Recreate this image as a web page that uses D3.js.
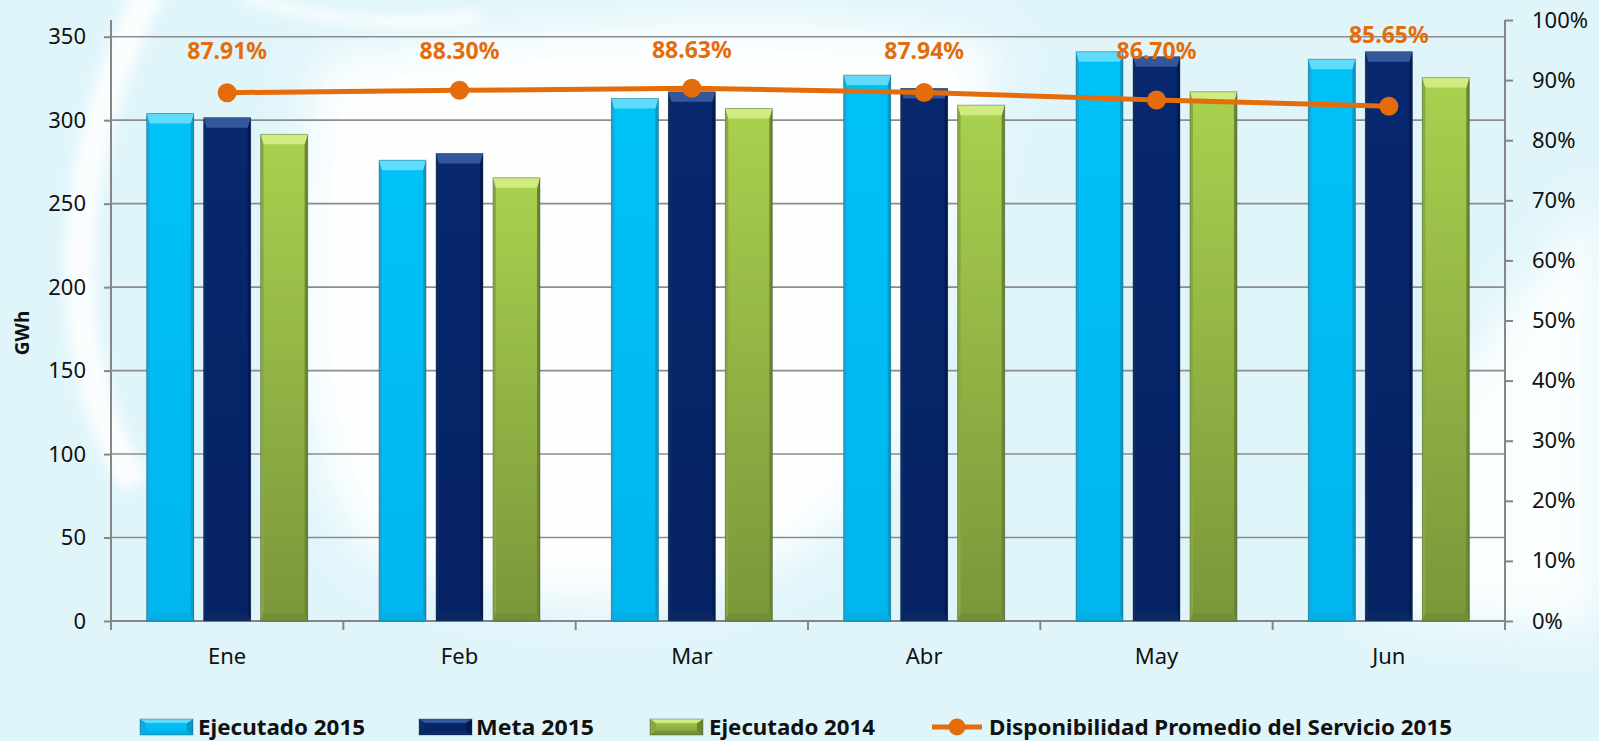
<!DOCTYPE html>
<html>
<head>
<meta charset="utf-8">
<script src="https://cdn.jsdelivr.net/npm/d3@7"></script>
<style>
  body { margin: 0; background: #ffffff; }
  svg { display: block; font-family: "Noto Sans", "Open Sans", sans-serif; }
</style>
</head>
<body>
<div id="chart"></div>
<script>
// Chart data
const months = ["Ene", "Feb", "Mar", "Abr", "May", "Jun"];
const ejecutado2015 = [304, 276, 313, 327, 341, 336.5];
const meta2015 = [301.5, 280, 317, 319, 338, 341];
const ejecutado2014 = [291.5, 265.5, 307, 309, 317, 325.5];
const disponibilidad = [0.8791, 0.8830, 0.8863, 0.8794, 0.8670, 0.8565];
const gwhTicks = [0, 50, 100, 150, 200, 250, 300, 350];
const pctTicks = [0, 0.1, 0.2, 0.3, 0.4, 0.5, 0.6, 0.7, 0.8, 0.9, 1];
const seriesNames = ["Ejecutado 2015", "Meta 2015", "Ejecutado 2014"];
const lineName = "Disponibilidad Promedio del Servicio 2015";

const width = 1599, height = 741;
const plot = { left: 111, right: 1505, top: 20, bottom: 621 };
const orange = "#e46c0a";

// bar looks (3D bevel like the office chart)
const looks = [
  { id: "e15", top: "#00c2f7", bottom: "#00b6ee", bevelTop: "#5fdcfb", edgeL: "#14a9db", edgeR: "#0b98c8", bevelBottom: "#0aa6da" },
  { id: "m15", top: "#07286f", bottom: "#052263", bevelTop: "#34579c", edgeL: "#0b2a66", edgeR: "#031a4e", bevelBottom: "#102d66" },
  { id: "e14", top: "#a9d14f", bottom: "#7a963a", bevelTop: "#d0ec80", edgeL: "#8aa83f", edgeR: "#6b8530", bevelBottom: "#6f8a33" }
];

const svg = d3.select("#chart").append("svg")
  .attr("width", width)
  .attr("height", height);

const defs = svg.append("defs");
defs.append("filter").attr("id", "soft")
  .attr("x", "-30%").attr("y", "-30%").attr("width", "160%").attr("height", "160%")
  .append("feGaussianBlur").attr("stdDeviation", 22);
defs.append("filter").attr("id", "soft2")
  .attr("x", "-30%").attr("y", "-30%").attr("width", "160%").attr("height", "160%")
  .append("feGaussianBlur").attr("stdDeviation", 6);

looks.forEach(l => {
  const gr = defs.append("linearGradient").attr("id", "grad-" + l.id)
    .attr("x1", 0).attr("y1", 0).attr("x2", 0).attr("y2", 1);
  gr.append("stop").attr("offset", "0%").attr("stop-color", l.top);
  gr.append("stop").attr("offset", "100%").attr("stop-color", l.bottom);
});

// Background: light cyan with white swooshes
svg.append("rect").attr("width", width).attr("height", height).attr("fill", "#e0f5fa");
const bg = svg.append("g");
bg.append("path")
  .attr("d", "M 320 60 C 600 10, 880 10, 1000 50 L 900 440 C 820 600, 620 640, 380 560 C 290 500, 280 250, 320 60 Z")
  .attr("fill", "#ffffff").attr("opacity", 0.95).attr("filter", "url(#soft)");
bg.append("path")
  .attr("d", "M 1599 190 L 1440 400 L 1370 610 L 1599 630 Z")
  .attr("fill", "#ffffff").attr("opacity", 0.9).attr("filter", "url(#soft)");
bg.append("path")
  .attr("d", "M 150 -10 C 75 140, 45 330, 135 485")
  .attr("fill", "none").attr("stroke", "#ffffff").attr("stroke-width", 30)
  .attr("opacity", 0.85).attr("filter", "url(#soft2)");
bg.append("path")
  .attr("d", "M 245 -5 Q 350 35 480 15")
  .attr("fill", "none").attr("stroke", "#ffffff").attr("stroke-width", 12)
  .attr("opacity", 0.8).attr("filter", "url(#soft2)");

// Scales
const x0 = d3.scaleBand().domain(months).range([plot.left, plot.right]).padding(0);
const x1 = d3.scaleBand().domain(d3.range(3)).range([0, x0.bandwidth()])
  .paddingInner(0.175).paddingOuter(0.626);
const yLeft = d3.scaleLinear().domain([0, 360]).range([plot.bottom, plot.top]);
const yRight = d3.scaleLinear().domain([0, 1]).range([plot.bottom, plot.top]);
const cx = i => x0(months[i]) + x0.bandwidth() / 2;

// Gridlines
svg.append("g")
  .selectAll("line")
  .data(gwhTicks.filter(d => d > 0))
  .enter().append("line")
  .attr("x1", plot.left).attr("x2", plot.right)
  .attr("y1", d => yLeft(d)).attr("y2", d => yLeft(d))
  .attr("stroke", "#8c8c8c").attr("stroke-width", 1.6);

// Left axis
const leftAxis = svg.append("g")
  .attr("transform", `translate(${plot.left},0)`)
  .call(d3.axisLeft(yLeft).tickValues(gwhTicks).tickSize(7).tickPadding(18));
leftAxis.select(".domain").remove();
leftAxis.append("line").attr("x1", 0).attr("x2", 0)
  .attr("y1", plot.top).attr("y2", plot.bottom);

// Right axis
const rightAxis = svg.append("g")
  .attr("transform", `translate(${plot.right},0)`)
  .call(d3.axisRight(yRight).tickValues(pctTicks).tickFormat(d3.format(".0%")).tickSize(8).tickPadding(19));
rightAxis.select(".domain").remove();
rightAxis.append("line").attr("x1", 0).attr("x2", 0)
  .attr("y1", plot.top).attr("y2", plot.bottom);

// Bottom axis (ticks between categories)
const bottomAxis = svg.append("g").attr("transform", `translate(0,${plot.bottom})`);
bottomAxis.append("line").attr("x1", plot.left).attr("x2", plot.right).attr("y1", 0).attr("y2", 0);
bottomAxis.selectAll("line.tick")
  .data(d3.range(months.length + 1))
  .enter().append("line").attr("class", "tick")
  .attr("x1", i => plot.left + i * x0.step()).attr("x2", i => plot.left + i * x0.step())
  .attr("y1", 0).attr("y2", 9);
bottomAxis.selectAll("text")
  .data(months)
  .enter().append("text")
  .attr("x", d => x0(d) + x0.bandwidth() / 2)
  .attr("y", 35)
  .attr("dy", "0.35em")
  .attr("text-anchor", "middle")
  .text(d => d);

[leftAxis, rightAxis, bottomAxis].forEach(a => {
  a.selectAll("line").attr("stroke", "#868686").attr("stroke-width", 2);
  a.selectAll("text").attr("fill", "#111").style("font-size", "22px").style("font-family", "'Noto Sans', sans-serif");
});

// Y axis title
svg.append("text")
  .attr("transform", "translate(22,333) rotate(-90)")
  .attr("text-anchor", "middle")
  .attr("dy", "0.35em")
  .style("font-size", "19px")
  .style("font-weight", "bold")
  .attr("fill", "#111")
  .text("GWh");

// Bevelled bar
function bevelBar(g, x, y, w, h, look, bt, bs, bb) {
  const b = g.append("g");
  b.append("rect").attr("x", x).attr("y", y).attr("width", w).attr("height", h)
    .attr("fill", "url(#grad-" + look.id + ")");
  b.append("polygon")
    .attr("points", [[x, y], [x + bs, y + bt], [x + bs, y + h - bb], [x, y + h]].join(" "))
    .attr("fill", look.edgeL);
  b.append("polygon")
    .attr("points", [[x + w, y], [x + w - bs, y + bt], [x + w - bs, y + h - bb], [x + w, y + h]].join(" "))
    .attr("fill", look.edgeR);
  b.append("polygon")
    .attr("points", [[x, y + h], [x + bs, y + h - bb], [x + w - bs, y + h - bb], [x + w, y + h]].join(" "))
    .attr("fill", look.bevelBottom).attr("opacity", 0.6);
  b.append("polygon")
    .attr("points", [[x, y], [x + w, y], [x + w - bs, y + bt], [x + bs, y + bt]].join(" "))
    .attr("fill", look.bevelTop);
  b.append("rect").attr("x", x).attr("y", y).attr("width", w).attr("height", h)
    .attr("fill", "none").attr("stroke", "rgba(40,60,70,0.35)").attr("stroke-width", 1);
  return b;
}

// Bars
const seriesValues = [ejecutado2015, meta2015, ejecutado2014];
const barsG = svg.append("g");
months.forEach((m, i) => {
  seriesValues.forEach((vals, s) => {
    const x = x0(m) + x1(s);
    const y = yLeft(vals[i]);
    bevelBar(barsG, x, y, x1.bandwidth(), yLeft(0) - y, looks[s], 10, 3, 8);
  });
});

// Line series
const lineGen = d3.line()
  .x((d, i) => cx(i))
  .y(d => yRight(d));
svg.append("path")
  .datum(disponibilidad)
  .attr("d", lineGen)
  .attr("fill", "none")
  .attr("stroke", orange)
  .attr("stroke-width", 5);
svg.append("g").selectAll("circle")
  .data(disponibilidad)
  .enter().append("circle")
  .attr("cx", (d, i) => cx(i))
  .attr("cy", d => yRight(d))
  .attr("r", 9.5)
  .attr("fill", orange);

// Data labels: above the point, lifted over the Meta bar when they would touch it
function labelY(d, i) {
  let y = Math.min(yRight(d) - 38, 51);
  const barTop = yLeft(meta2015[i]);
  if (barTop < y + 3) y = barTop - 17;
  return y;
}
svg.append("g").selectAll("text")
  .data(disponibilidad)
  .enter().append("text")
  .attr("x", (d, i) => cx(i))
  .attr("y", labelY)
  .attr("dy", "0.35em")
  .attr("text-anchor", "middle")
  .style("font-size", "23px")
  .style("font-weight", "bold")
  .attr("fill", orange)
  .text(d => d3.format(".2%")(d));

// Legend
const legend = svg.append("g").attr("transform", "translate(0,727)");
const legendItems = [
  { x: 140, text: seriesNames[0], tx: 198, tw: 167 },
  { x: 419, text: seriesNames[1], tx: 476, tw: 118 },
  { x: 650, text: seriesNames[2], tx: 709, tw: 166 }
];
legendItems.forEach((it, s) => {
  const g = legend.append("g");
  bevelBar(g, it.x, -8, 53, 16, looks[s], 4, 6, 4);
  g.append("text").attr("x", it.tx).attr("y", 0).attr("dy", "0.35em")
    .style("font-size", "22px").style("font-weight", "bold").attr("fill", "#111")
    .attr("textLength", it.tw).attr("lengthAdjust", "spacingAndGlyphs")
    .text(it.text);
});
legend.append("line").attr("x1", 932).attr("x2", 982).attr("y1", 0).attr("y2", 0)
  .attr("stroke", orange).attr("stroke-width", 5);
legend.append("circle").attr("cx", 957).attr("cy", 0).attr("r", 8.5).attr("fill", orange);
legend.append("text").attr("x", 989).attr("y", 0).attr("dy", "0.35em")
  .style("font-size", "22px").style("font-weight", "bold").attr("fill", "#111")
  .attr("textLength", 463).attr("lengthAdjust", "spacingAndGlyphs")
  .text(lineName);
</script>
</body>
</html>
